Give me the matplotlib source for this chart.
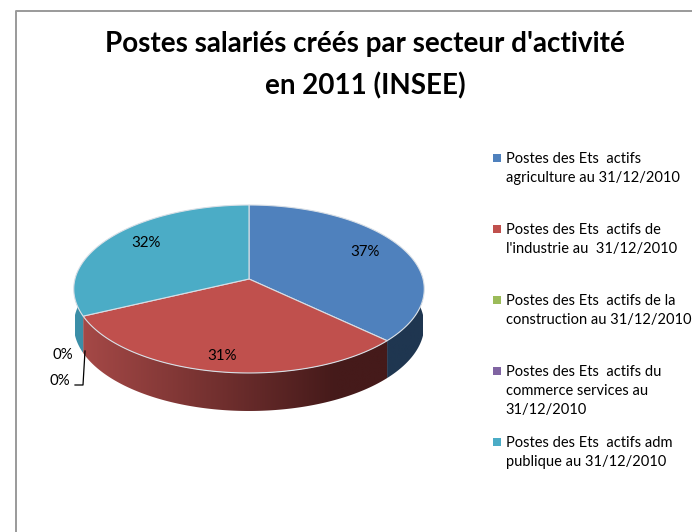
import matplotlib
matplotlib.use("Agg")
import matplotlib.pyplot as plt
import numpy as np
from matplotlib.colors import LinearSegmentedColormap
from matplotlib.patches import Polygon, Rectangle

title = "Postes salariés créés par secteur d'activité\nen 2011 (INSEE)"
labels = [
    "Postes des Ets  actifs\nagriculture au 31/12/2010",
    "Postes des Ets  actifs de\nl'industrie au  31/12/2010",
    "Postes des Ets  actifs de la\nconstruction au 31/12/2010",
    "Postes des Ets  actifs du\ncommerce services au\n31/12/2010",
    "Postes des Ets  actifs adm\npublique au 31/12/2010",
]
values = [37, 31, 0, 0, 32]
colors = ["#4F81BD", "#C0504D", "#9BBB59", "#8064A2", "#4BACC6"]
wall_left = ["#1F3650", "#A84A48", "#5f7a30", "#4d3b66", "#3C8FA8"]
wall_right = ["#1F3650", "#451A1A", "#5f7a30", "#4d3b66", "#2F7F98"]

plt.rcParams["font.family"] = ["Lato", "DejaVu Sans"]

W, H = 692, 532
fig = plt.figure(figsize=(W / 100, H / 100), dpi=100)
ax = fig.add_axes([0, 0, 1, 1])
ax.axis("off")

# pie seen in perspective, apex is not the middle of the ellipse
CX, CY = 249, 279
RX, RY, K = 174, 82.8, 0.119


def project(theta):
    u, v = np.sin(theta), np.cos(theta)
    w = 1 / (1 + K * v)
    return CX + RX * u * w, CY - RY * v * w


def wall_depth(theta):
    return 36 - 2 * np.cos(theta)


# only top and left of the chart frame are inside the crop
ax.plot([15.5, 15.5, W], [H, 10.5, 10.5], color="#9a9a9a", lw=1.4, zorder=1)

fractions = np.array(values) / sum(values)
edges = np.concatenate([[0], np.cumsum(fractions)]) * 2 * np.pi

# side wall first, only the front half shows
x_left, x_right = CX - RX, CX + RX
for i in range(len(values)):
    if values[i] == 0:
        continue
    th = np.linspace(edges[i], edges[i + 1], 300)
    th = th[np.cos(th) < 0.12]
    xs, ys = project(th)
    deep = wall_depth(th)
    pts = np.column_stack([np.r_[xs, xs[::-1]], np.r_[ys, (ys + deep)[::-1]]])
    clip = Polygon(pts, closed=True, fc="none", ec="none", transform=ax.transData)
    ax.add_patch(clip)
    # darkest shade is reached around 3/4 of the width
    cmap = LinearSegmentedColormap.from_list(
        f"wall{i}", [(0, wall_left[i]), (0.75, wall_right[i]), (1, wall_right[i])]
    )
    grad = np.linspace(0, 1, 256).reshape(1, -1)
    img = ax.imshow(grad, cmap=cmap, extent=(x_left, x_right, 420, 270), aspect="auto", zorder=2)
    img.set_clip_path(clip)

# top face
for i in range(len(values)):
    if values[i] == 0:
        continue
    th = np.linspace(edges[i], edges[i + 1], 200)
    xs, ys = project(th)
    pts = np.column_stack([np.r_[CX, xs], np.r_[CY, ys]])
    ax.add_patch(Polygon(pts, closed=True, fc=colors[i], ec="#d8dfe6", lw=0.8, zorder=3))

# data labels
label_pos = [(365, 252), (222, 356), (63, 355), (60, 381), (146, 243)]
for value, (x, y) in zip(values, label_pos):
    ax.text(x, y, f"{value}%", fontsize=10.8, ha="center", va="center", color="black", zorder=5)
ax.plot([75, 83, 85], [385, 385, 351], color="black", lw=0.9, zorder=4)

ax.text(365, 65, title, fontsize=20, fontweight="bold", ha="center", va="center",
        linespacing=1.67, color="black", zorder=5)

# legend
legend_top = [158, 229, 300, 371, 442]
for name, color, y in zip(labels, colors, legend_top):
    ax.add_patch(Rectangle((493, y - 4), 8, 8, fc=color, ec="none", zorder=5))
    ax.text(505.5, y - 6, name, fontsize=10.5, ha="left", va="top", linespacing=1.45,
            color="black", zorder=5, clip_on=True)

ax.set_xlim(0, W)
ax.set_ylim(H, 0)
fig.savefig("out.png", dpi=100)
